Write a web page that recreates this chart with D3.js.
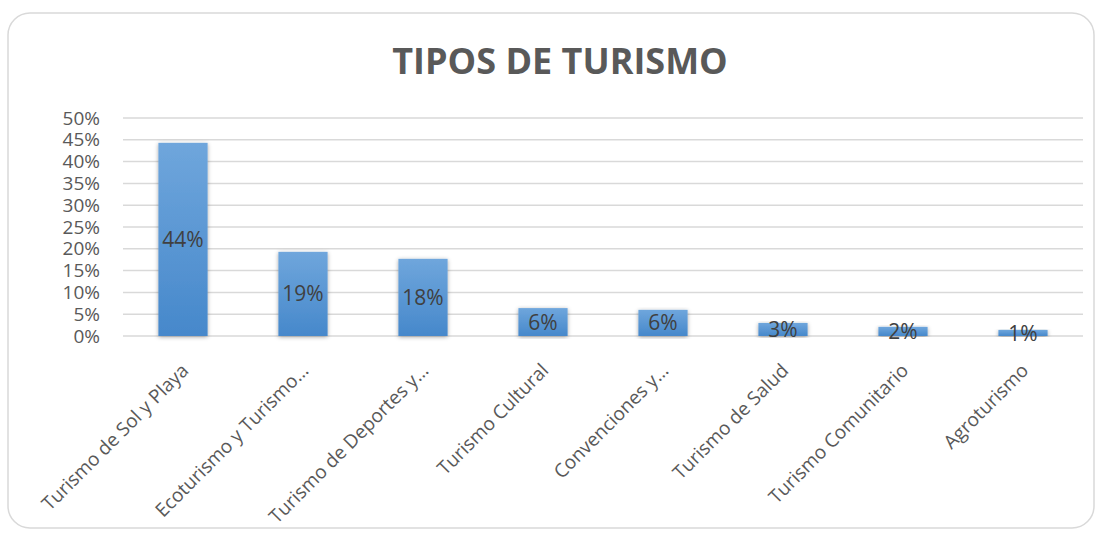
<!DOCTYPE html>
<html>
<head>
<meta charset="utf-8">
<script src="https://cdn.jsdelivr.net/npm/d3@7"></script>
<style>
  body { margin: 0; background: #fff; }
  text { font-family: "Open Sans", "Noto Sans", sans-serif; }
</style>
</head>
<body>
<div class="chart"></div>
<script>
(function(){

  // data
  var categories = ['Turismo de Sol y Playa', 'Ecoturismo y Turismo…', 'Turismo de Deportes y…',
    'Turismo Cultural', 'Convenciones y…', 'Turismo de Salud', 'Turismo Comunitario', 'Agroturismo']
  var values = [0.443, 0.193, 0.177, 0.064, 0.060, 0.030, 0.021, 0.014]
  var yTicks = [0, 0.05, 0.1, 0.15, 0.2, 0.25, 0.3, 0.35, 0.4, 0.45, 0.5]

  var W = 1101, H = 537
  var margin = { top: 118, right: 18, bottom: 201, left: 123 }
  var width = W - margin.left - margin.right,
      height = H - margin.top - margin.bottom

  var svg = d3.select('.chart').append('svg')
    .attr('width', W)
    .attr('height', H)

  var defs = svg.append('defs')
  var grad = defs.append('linearGradient')
    .attr('id', 'barGrad')
    .attr('x1', 0).attr('y1', 0).attr('x2', 0).attr('y2', 1)
  grad.append('stop').attr('offset', '0%').attr('stop-color', '#6fa6dc')
  grad.append('stop').attr('offset', '100%').attr('stop-color', '#4688cb')

  var shadow = defs.append('filter').attr('id', 'shadow')
    .attr('x', '-20%').attr('y', '-10%').attr('width', '140%').attr('height', '120%')
  shadow.append('feDropShadow')
    .attr('dx', 0).attr('dy', 1).attr('stdDeviation', 2)
    .attr('flood-color', '#000').attr('flood-opacity', 0.35)

  // chart frame
  svg.append('rect')
    .attr('x', 8).attr('y', 13)
    .attr('width', 1086).attr('height', 515)
    .attr('rx', 22).attr('ry', 22)
    .style('fill', '#fff')
    .style('stroke', '#d9d9d9')
    .style('stroke-width', 1.5)

  svg.append('text')
    .attr('x', 560)
    .attr('y', 74)
    .attr('text-anchor', 'middle')
    .style('font-size', '36px')
    .style('font-weight', 'bold')
    .style('fill', '#595959')
    .text('TIPOS DE TURISMO')

  var g = svg.append('g')
    .attr('transform', 'translate(' + margin.left + ',' + margin.top + ')')

  var x = d3.scaleBand()
    .domain(categories)
    .range([0, width])
    .paddingInner(0.59)
    .paddingOuter(0.295)

  var y = d3.scaleLinear()
    .domain([0, 0.5])
    .range([height, 0])

  // gridlines
  g.selectAll('.grid')
    .data(yTicks)
    .enter().append('line')
    .attr('class', 'grid')
    .attr('x1', 0)
    .attr('x2', width)
    .attr('y1', function(d){ return y(d) })
    .attr('y2', function(d){ return y(d) })
    .style('stroke', '#d9d9d9')
    .style('stroke-width', 1.5)

  // y axis labels
  var yAxis = d3.axisLeft(y)
    .tickValues(yTicks)
    .tickFormat(d3.format('.0%'))
    .tickSize(0)
    .tickPadding(23)
  var ya = g.append('g').call(yAxis)
  ya.select('.domain').remove()
  ya.selectAll('text')
    .style('font-size', '19px')
    .style('fill', '#595959')
    .style('font-family', '"Open Sans", sans-serif')

  // bars
  g.selectAll('.bar')
    .data(values)
    .enter().append('rect')
    .attr('class', 'bar')
    .attr('x', function(d, i){ return x(categories[i]) })
    .attr('y', function(d){ return y(d) })
    .attr('width', x.bandwidth())
    .attr('height', function(d){ return height - y(d) })
    .style('fill', 'url(#barGrad)')
    .attr('filter', 'url(#shadow)')

  // value labels, centred in each bar
  g.selectAll('.val')
    .data(values)
    .enter().append('text')
    .attr('class', 'val')
    .attr('x', function(d, i){ return x(categories[i]) + x.bandwidth() / 2 })
    .attr('y', function(d){ return (y(d) + height) / 2 })
    .attr('dy', '0.36em')
    .attr('text-anchor', 'middle')
    .style('font-size', '21px')
    .style('fill', '#404040')
    .text(function(d){ return d3.format('.0%')(d) })

  // x axis labels, rotated
  var xa = g.append('g')
    .attr('transform', 'translate(0,' + height + ')')
    .call(d3.axisBottom(x).tickSize(0).tickPadding(0))
  xa.select('.domain').remove()
  xa.selectAll('text')
    .attr('text-anchor', 'end')
    .attr('transform', 'translate(2,31) rotate(-45)')
    .attr('dy', '0.35em')
    .attr('y', 0)
    .style('font-size', '19px')
    .style('fill', '#595959')
    .style('font-family', '"Open Sans", sans-serif')

})()
</script>
</body>
</html>
